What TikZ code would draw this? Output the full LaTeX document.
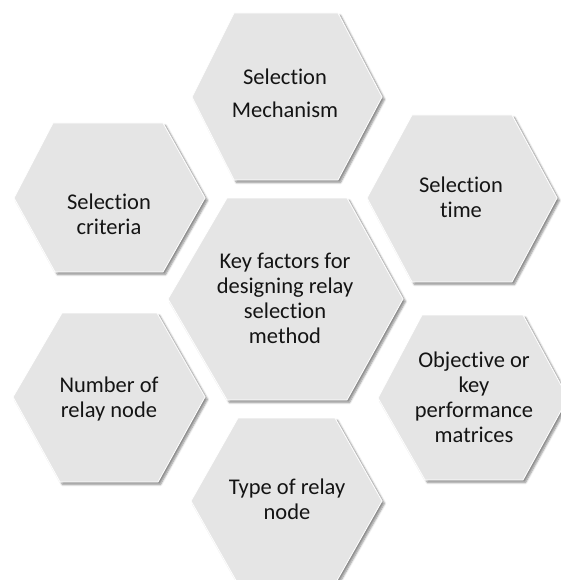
\documentclass[tikz,border=0pt]{standalone}
\usepackage{fontspec}
\setmainfont{Carlito}[Ligatures=NoCommon]
\usetikzlibrary{shadows.blur}
\tikzset{
  hexa/.style={fill={rgb,255:red,229;green,229;blue,229}, draw=white, line width=0.8pt,
    blur shadow={shadow xshift=2.5pt, shadow yshift=-2.5pt, shadow blur steps=6, shadow blur radius=2pt, shadow opacity=45}},
  lbl/.style={align=center, anchor=base, inner sep=0pt, text={rgb,255:red,20;green,20;blue,20},
    font=\fontsize{22.5}{25}\selectfont}
}
\begin{document}
\begin{tikzpicture}[x=1pt,y=-1pt]
\useasboundingbox (0,0) rectangle (560,580);
% hexagons
\path[hexa] (192,97) -- (234,13) -- (338,13) -- (382,97) -- (338,180) -- (234,180) -- cycle;
\path[hexa] (14,198) -- (53,123) -- (163,123) -- (205,198) -- (163,272) -- (55,272) -- cycle;
\path[hexa] (367,198) -- (412,115) -- (512,115) -- (557,198) -- (512,282) -- (412,282) -- cycle;
\path[hexa] (13,397) -- (62,313) -- (157,313) -- (205,397) -- (158,482) -- (60,482) -- cycle;
\path[hexa] (378,398) -- (422,315) -- (523,315) -- (568,398) -- (523,480) -- (425,480) -- cycle;
\path[hexa] (191,501) -- (238,418) -- (335,418) -- (382,501) -- (335,584) -- (238,584) -- cycle;
\path[hexa] (168,299) -- (227,198) -- (347,198) -- (403,299) -- (347,400) -- (227,400) -- cycle;
% labels (anchor = baseline of the last line)
\node[lbl, font=\fontsize{22.5}{33}\selectfont] (mech) at (285,118) {Selection\\Mechanism};
\node[lbl] (crit) at (109,234) {Selection\\criteria};
\node[lbl] (time) at (461,217) {Selection\\time};
\node[lbl] (key) at (285,343) {Key factors for\\designing relay\\selection\\method};
\node[lbl] (num) at (109,417) {Number of\\relay node};
\node[lbl] (obj) at (474,442) {Objective or\\key\\performance\\matrices};
\node[lbl] (type) at (287,519) {Type of relay\\node};
\end{tikzpicture}
\end{document}
